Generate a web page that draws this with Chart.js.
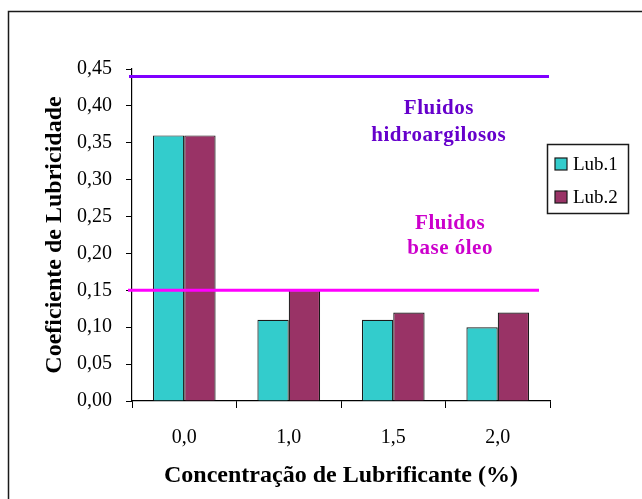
<!DOCTYPE html>
<html>
<head>
<meta charset="utf-8">
<style>
  html, body { margin: 0; padding: 0; background: #ffffff; }
  #wrap { width: 642px; height: 499px; position: relative; }
  canvas { display: block; }
</style>
<script src="https://cdn.jsdelivr.net/npm/chart.js@4.4.0/dist/chart.umd.min.js"></script>
</head>
<body>
<div id="wrap"><canvas id="c" width="642" height="499"></canvas></div>
<script>
// Lubricity coefficient by lubricant concentration
const categories = ['0,0', '1,0', '1,5', '2,0'];
const seriesNames = ['Lub.1', 'Lub.2'];
const lub1 = [0.36, 0.11, 0.11, 0.10];
const lub2 = [0.36, 0.15, 0.12, 0.12];

// Reference levels: water-clay fluids and oil-based fluids
const limitValues = [0.44, 0.15];
const limitTexts = [['Fluidos', 'hidroargilosos'], ['Fluidos', 'base óleo']];

const SERIF = '"Liberation Serif", "Times New Roman", serif';
const fmtComma = v => v.toFixed(2).replace('.', ',');

const notesPlugin = {
  id: 'notes',
  beforeDraw(chart) {
    const ctx = chart.ctx;
    ctx.save();
    ctx.fillStyle = '#ffffff';
    ctx.fillRect(0, 0, chart.width, chart.height);
    // outer frame
    ctx.strokeStyle = '#1a1a1a';
    ctx.lineWidth = 1.5;
    ctx.beginPath();
    ctx.moveTo(8.5, chart.height);
    ctx.lineTo(8.5, 11.5);
    ctx.lineTo(chart.width, 11.5);
    ctx.stroke();
    ctx.restore();
  },
  afterDatasetsDraw(chart, args, opts) {
    const ctx = chart.ctx;
    const ys = chart.scales.y;
    const area = chart.chartArea;
    ctx.save();
    opts.levels.forEach((lv, i) => {
      const y = ys.getPixelForValue(limitValues[i]);
      ctx.strokeStyle = lv.lineColor;
      ctx.lineWidth = 3;
      ctx.beginPath();
      ctx.moveTo(area.left + lv.x0, y);
      ctx.lineTo(area.right + lv.x1, y);
      ctx.stroke();

      ctx.fillStyle = lv.textColor;
      ctx.font = 'bold 21px ' + SERIF;
      ctx.textAlign = 'center';
      ctx.textBaseline = 'middle';
      ctx.letterSpacing = '0.5px';
      const tx = area.left + lv.xFrac * (area.right - area.left);
      limitTexts[i].forEach((t, k) => {
        ctx.fillText(t, tx, ys.getPixelForValue(lv.yVals[k]));
      });
    });
    ctx.restore();
  },
  afterDraw(chart, args, opts) {
    // legend box
    const ctx = chart.ctx;
    const L = opts.legend;
    ctx.save();
    ctx.fillStyle = '#ffffff';
    ctx.fillRect(L.x, L.y, L.w, L.h);
    ctx.strokeStyle = '#1a1a1a';
    ctx.lineWidth = 1.5;
    ctx.strokeRect(L.x + 0.5, L.y + 0.5, L.w, L.h);
    ctx.font = '19px ' + SERIF;
    ctx.textBaseline = 'middle';
    ctx.textAlign = 'left';
    chart.data.datasets.forEach((ds, i) => {
      const cy = L.y + L.firstRow + i * L.rowGap;
      ctx.fillStyle = ds.backgroundColor;
      ctx.fillRect(L.x + 8, cy - 6, 12, 12);
      ctx.lineWidth = 1.2;
      ctx.strokeStyle = '#1a1a1a';
      ctx.strokeRect(L.x + 8, cy - 6, 12, 12);
      ctx.fillStyle = '#000000';
      ctx.fillText(ds.label, L.x + 26, cy + 1);
    });
    ctx.restore();
  }
};

new Chart(document.getElementById('c'), {
  type: 'bar',
  data: {
    labels: categories,
    datasets: [
      { label: seriesNames[0], data: lub1, backgroundColor: '#33cccc', borderColor: '#1a1a1a', borderWidth: 1.2 },
      { label: seriesNames[1], data: lub2, backgroundColor: '#993366', borderColor: '#1a1a1a', borderWidth: 1.2 }
    ]
  },
  options: {
    responsive: false,
    animation: false,
    devicePixelRatio: 1,
    layout: { padding: { top: 69, right: 92, bottom: 0, left: 0 } },
    datasets: { bar: { categoryPercentage: 0.6, barPercentage: 1.0 } },
    plugins: {
      legend: { display: false },
      tooltip: { enabled: false },
      notes: {
        levels: [
          { lineColor: '#8000ff', textColor: '#6600cc', x0: -3, x1: -1, xFrac: 0.734, yVals: [0.396, 0.360] },
          { lineColor: '#ff00ff', textColor: '#cc00cc', x0: -4, x1: -11, xFrac: 0.761, yVals: [0.241, 0.206] }
        ],
        legend: { x: 547, y: 144, w: 81, h: 69, firstRow: 20, rowGap: 33 }
      }
    },
    scales: {
      x: {
        afterFit: s => { s.height = 98; },
        grid: { display: true, offset: true, drawOnChartArea: false, drawTicks: true, tickLength: 7, color: '#000000', lineWidth: 1 },
        border: { display: true, color: '#000000', width: 1.2 },
        ticks: { color: '#000000', font: { family: SERIF, size: 20 }, padding: 18 },
        title: {
          display: true,
          text: 'Concentração de Lubrificante (%)',
          color: '#000000',
          font: { family: SERIF, size: 24, weight: 'bold' },
          padding: { top: 0, bottom: 9 }
        }
      },
      y: {
        min: 0,
        max: 0.45,
        afterFit: s => { s.width = 132; },
        grid: { display: true, drawOnChartArea: false, drawTicks: true, tickLength: 6, color: '#000000', lineWidth: 1 },
        border: { display: true, color: '#000000', width: 1.2 },
        ticks: {
          stepSize: 0.05,
          color: '#000000',
          font: { family: SERIF, size: 20 },
          padding: 14,
          callback: v => fmtComma(v)
        },
        title: {
          display: true,
          text: 'Coeficiente de Lubricidade',
          color: '#000000',
          font: { family: SERIF, size: 24, weight: 'bold' },
          padding: { top: 40, bottom: 0 }
        }
      }
    }
  },
  plugins: [notesPlugin]
});
</script>
</body>
</html>
